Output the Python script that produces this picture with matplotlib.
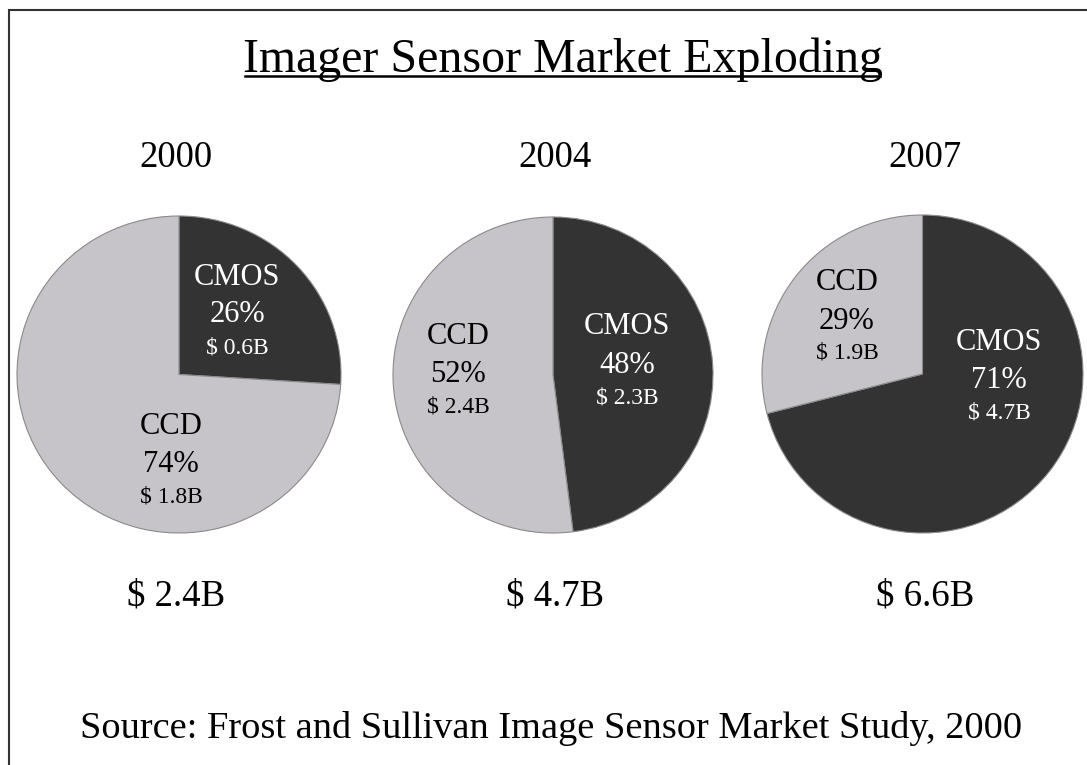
import matplotlib.pyplot as plt
from matplotlib.patches import Rectangle
from matplotlib.lines import Line2D

plt.rcParams['font.family'] = ['Liberation Serif', 'DejaVu Serif']

W, H = 1087, 765

years = ['2000', '2004', '2007']
totals = ['$ 2.4B', '$ 4.7B', '$ 6.6B']
cmos_pct = [26, 48, 71]
ccd_pct = [74, 52, 29]
cmos_val = ['$ 0.6B', '$ 2.3B', '$ 4.7B']
ccd_val = ['$ 1.8B', '$ 2.4B', '$ 1.9B']

dark = '#333333'
light = '#c6c4c8'

# pie boxes in pixels: left, top, right, bottom
boxes = [(17, 216, 341, 533), (393, 217, 713, 533), (762, 215, 1083, 533)]
# label centres in pixels (x, y of first line)
cmos_pos = [(237, 277), (627, 327), (999, 342)]
ccd_pos = [(171, 427), (458, 337), (847, 283)]
col_x = [176, 555, 925]


def fx(x):
    return x / W


def fy(y):
    return 1 - y / H


fig = plt.figure(figsize=(W / 100, H / 100), dpi=100)
fig.patch.set_facecolor('white')

for i in range(3):
    l, t, r, b = boxes[i]
    ax = fig.add_axes([fx(l), fy(b), (r - l) / W, (b - t) / H])
    ax.pie([cmos_pct[i], ccd_pct[i]], colors=[dark, light], startangle=90,
           counterclock=False, radius=1,
           wedgeprops=dict(edgecolor='#8a8a8a', linewidth=0.8))
    ax.set_aspect('auto')
    ax.set_xlim(-1, 1)
    ax.set_ylim(-1, 1)
    ax.set_axis_off()

    cx, cy = cmos_pos[i]
    fig.text(fx(cx), fy(cy), 'CMOS', color='white', fontsize=22, ha='center', va='center')
    fig.text(fx(cx), fy(cy + 38), '%d%%' % cmos_pct[i], color='white', fontsize=22, ha='center', va='center')
    fig.text(fx(cx), fy(cy + 71), cmos_val[i], color='white', fontsize=17, ha='center', va='center')

    dx, dy = ccd_pos[i]
    fig.text(fx(dx), fy(dy), 'CCD', color='black', fontsize=22, ha='center', va='center')
    fig.text(fx(dx), fy(dy + 38), '%d%%' % ccd_pct[i], color='black', fontsize=22, ha='center', va='center')
    fig.text(fx(dx), fy(dy + 70), ccd_val[i], color='black', fontsize=17, ha='center', va='center')

    fig.text(fx(col_x[i]), fy(167), years[i], fontsize=26.5, ha='center', va='baseline')
    fig.text(fx(col_x[i]), fy(605), totals[i], fontsize=26.5, ha='center', va='baseline')

fig.text(fx(562.5), fy(72), 'Imager Sensor Market Exploding', fontsize=34.5, ha='center', va='baseline')
fig.add_artist(Line2D([fx(245), fx(880)], [fy(76), fy(76)], color='black', linewidth=1.8))

fig.text(fx(551), fy(738), 'Source: Frost and Sullivan Image Sensor Market Study, 2000',
         fontsize=27.6, ha='center', va='baseline')

# frame
fig.add_artist(Rectangle((fx(9), fy(800)), fx(1200), fy(10) - fy(800),
                         fill=False, edgecolor='#333333', linewidth=1.5))

fig.savefig('out.png', dpi=100)
